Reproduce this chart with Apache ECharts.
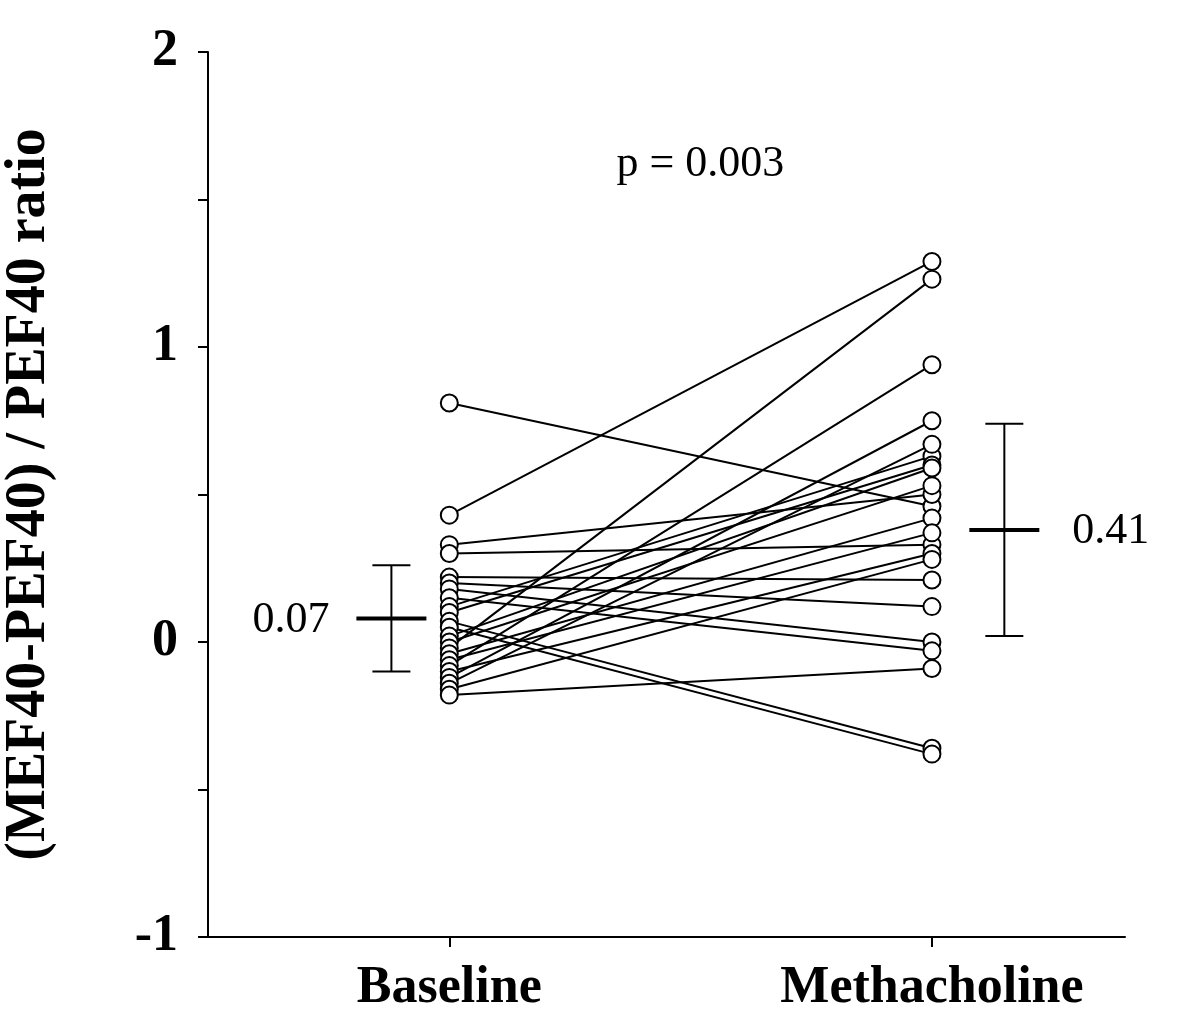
<!DOCTYPE html>
<html>
<head>
<meta charset="utf-8">
<script src="https://cdn.jsdelivr.net/npm/echarts@6/dist/echarts.min.js"></script>
<style>
  html, body { margin: 0; padding: 0; background: #fff; }
  #chart { width: 1200px; height: 1032px; }
</style>
</head>
<body>
<div id="chart"></div>
<script>
// categories sit at x = 0 and x = 1
const categories = ['Baseline', 'Methacholine'];
// paired values, one entry per subject
const baseline     = [0.81, 0.43, 0.33, 0.30, 0.22, 0.20, 0.18, 0.15, 0.12, 0.10, 0.07, 0.05, 0.02, 0.00, -0.02, -0.04, -0.06, -0.08, -0.10, -0.12, -0.14, -0.16, -0.18];
const methacholine = [0.46, 1.29, 0.50, 0.33, 0.21, 0.12, 0.00, -0.03, 0.63, 0.60, -0.36, -0.38, 0.59, 0.53, 1.23, 0.42, 0.37, 0.94, 0.30, 0.75, 0.67, 0.28, -0.09];
// mean +/- SD bars
const errX = [-0.12, 1.15];
const meanVals = [0.08, 0.38];
const upperVals = [0.26, 0.74];
const lowerVals = [-0.10, 0.02];
const meanLabels = ['0.07', '0.41'];
const pText = 'p = 0.003';
const pPos = [0.52, 1.62];

const SERIF = '"Liberation Serif", "Times New Roman", serif';

const myChart = echarts.init(document.getElementById('chart'));

const lineSeries = baseline.map((b, i) => ({
  type: 'line',
  data: [[0, b], [1, methacholine[i]]],
  showSymbol: false,
  lineStyle: { color: '#000', width: 2 },
  silent: true,
  z: 2
}));

const points = [];
baseline.forEach(v => points.push([0, v]));
methacholine.forEach(v => points.push([1, v]));

let option = {
  animation: false,
  backgroundColor: '#fff',
  grid: { left: 208, right: 75, top: 52, bottom: 95, outerBoundsMode: 'none' },
  xAxis: {
    type: 'value',
    min: -0.5,
    max: 1.4,
    axisLine: { onZero: false, lineStyle: { color: '#000', width: 2 } },
    axisTick: { show: true, customValues: [0, 1], length: 10, lineStyle: { color: '#000', width: 2 } },
    axisLabel: {
      customValues: [0, 1],
      formatter: v => categories[Math.round(v)],
      margin: 26,
      color: '#000',
      fontFamily: SERIF,
      fontWeight: 'bold',
      fontSize: 52
    },
    splitLine: { show: false }
  },
  yAxis: {
    type: 'value',
    min: -1,
    max: 2,
    interval: 0.5,
    name: '(MEF40-PEF40) / PEF40 ratio',
    nameLocation: 'middle',
    nameGap: 150,
    nameTextStyle: { color: '#000', fontFamily: SERIF, fontWeight: 'bold', fontSize: 56 },
    axisLine: { show: true, onZero: false, lineStyle: { color: '#000', width: 2 } },
    axisTick: { show: true, length: 10, lineStyle: { color: '#000', width: 2 } },
    axisLabel: {
      formatter: v => (Number.isInteger(v) ? String(v) : ''),
      margin: 30,
      padding: [6, 0, 0, 0],
      color: '#000',
      fontFamily: SERIF,
      fontWeight: 'bold',
      fontSize: 52
    },
    splitLine: { show: false }
  },
  series: [
    ...lineSeries,
    {
      type: 'scatter',
      data: points,
      symbol: 'circle',
      symbolSize: 17,
      itemStyle: { color: '#fff', borderColor: '#000', borderWidth: 2, opacity: 1 },
      silent: true,
      z: 5
    },
    {
      type: 'custom',
      silent: true,
      z: 6,
      data: errX.map((x, i) => [x, meanVals[i], upperVals[i], lowerVals[i], i]),
      renderItem: (params, api) => {
        const x = api.value(0);
        const i = api.value(4);
        const mid = api.coord([x, api.value(1)]);
        const top = api.coord([x, api.value(2)]);
        const bot = api.coord([x, api.value(3)]);
        const ls = { stroke: '#000', lineWidth: 2 };
        const left = i === 0;
        return {
          type: 'group',
          children: [
            { type: 'line', shape: { x1: top[0], y1: top[1], x2: bot[0], y2: bot[1] }, style: ls },
            { type: 'line', shape: { x1: top[0] - 19, y1: top[1], x2: top[0] + 19, y2: top[1] }, style: ls },
            { type: 'line', shape: { x1: bot[0] - 19, y1: bot[1], x2: bot[0] + 19, y2: bot[1] }, style: ls },
            { type: 'line', shape: { x1: mid[0] - 35, y1: mid[1], x2: mid[0] + 35, y2: mid[1] }, style: { stroke: '#000', lineWidth: 4 } },
            {
              type: 'text',
              style: {
                text: meanLabels[i],
                x: left ? mid[0] - 62 : mid[0] + 68,
                y: mid[1] + 2,
                align: left ? 'right' : 'left',
                verticalAlign: 'middle',
                fill: '#000',
                font: '44px ' + SERIF
              }
            }
          ]
        };
      }
    },
    {
      type: 'custom',
      silent: true,
      data: [pPos],
      renderItem: (params, api) => {
        const p = api.coord([api.value(0), api.value(1)]);
        return {
          type: 'text',
          style: {
            text: pText,
            x: p[0],
            y: p[1],
            align: 'center',
            verticalAlign: 'middle',
            fill: '#000',
            font: '44px ' + SERIF
          }
        };
      }
    }
  ]
};

option && myChart.setOption(option);
</script>
</body>
</html>
